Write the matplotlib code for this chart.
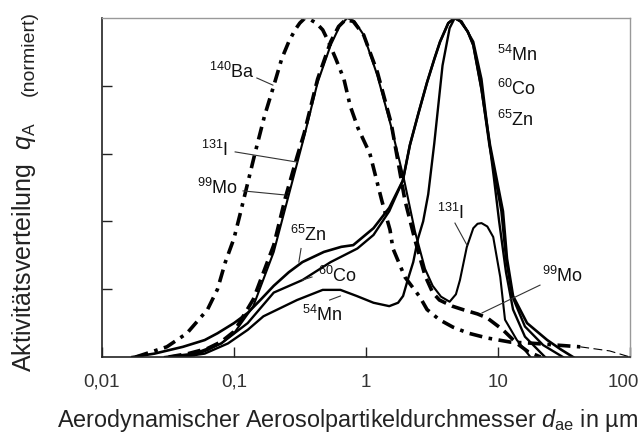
import matplotlib
matplotlib.use("Agg")
import matplotlib.pyplot as plt
from matplotlib.transforms import ScaledTranslation

plt.rcParams['font.family'] = ['Liberation Sans', 'DejaVu Sans']
plt.rcParams['mathtext.fontset'] = 'custom'
plt.rcParams['mathtext.rm'] = 'Liberation Sans'
plt.rcParams['mathtext.it'] = 'Liberation Sans:italic'

# particle diameter in um, activity distribution normalised to peak = 1
ba140_x = [0.018, 0.031, 0.044, 0.063, 0.075, 0.086, 0.1, 0.111, 0.144, 0.17, 0.2, 0.23, 0.26, 0.29,
           0.315, 0.345, 0.38, 0.42, 0.47, 0.52, 0.59, 0.68, 0.76, 0.87, 1.07, 1.32, 1.52, 1.6, 1.97,
           2.56, 2.9, 3.6, 4.56, 6.0, 8.3, 12.4, 17.6, 28, 42]
ba140_y = [0.0, 0.03, 0.07, 0.14, 0.20, 0.28, 0.35, 0.42, 0.60, 0.71, 0.80, 0.88, 0.93, 0.965,
           0.985, 1.0, 0.995, 0.985, 0.965, 0.93, 0.88, 0.82, 0.74, 0.675, 0.60, 0.46, 0.375, 0.32, 0.236,
           0.177, 0.14, 0.11, 0.088, 0.07, 0.056, 0.044, 0.041, 0.035, 0.03]
ba140_tail_x = [42, 70, 100]
ba140_tail_y = [0.03, 0.018, 0.0]

mo99_x = [0.032, 0.045, 0.063, 0.08, 0.1, 0.14, 0.2, 0.245, 0.3, 0.34, 0.43, 0.54, 0.62, 0.7, 0.8,
          0.96, 1.22, 1.55, 1.97, 2.35, 2.8, 3.2, 3.6, 4.5, 5.5, 7.0, 8.3, 10.9, 13.9, 17, 21]
mo99_y = [0.0, 0.01, 0.025, 0.045, 0.075, 0.17, 0.33, 0.47, 0.59, 0.66, 0.82, 0.93, 0.975, 0.995, 0.99,
          0.95, 0.84, 0.69, 0.463, 0.345, 0.24, 0.19, 0.168, 0.15, 0.139, 0.127, 0.115, 0.08, 0.04, 0.015, 0.0]

i131_x = [0.035, 0.05, 0.063, 0.08, 0.1, 0.14, 0.2, 0.245, 0.3, 0.34, 0.43, 0.54, 0.63, 0.72, 0.82,
          0.96, 1.22, 1.55, 1.95, 2.35, 2.8, 3.2, 3.7, 4.3, 4.8, 5.15, 5.8, 6.5, 7.0, 7.5, 8.3, 9.2,
          10.4, 11.3, 13.9, 17.6]
i131_y = [0.0, 0.005, 0.02, 0.04, 0.07, 0.15, 0.31, 0.44, 0.57, 0.65, 0.81, 0.92, 0.975, 1.0, 0.99,
          0.95, 0.83, 0.68, 0.52, 0.37, 0.26, 0.21, 0.178, 0.163, 0.185, 0.227, 0.324, 0.38, 0.393, 0.395, 0.385,
          0.354, 0.236, 0.11, 0.05, 0.0]

zn65_x = [0.017, 0.025, 0.041, 0.06, 0.075, 0.1, 0.127, 0.16, 0.2, 0.26, 0.33, 0.48, 0.65, 0.8,
          1.14, 1.5, 1.9, 2.15, 2.5, 2.9, 3.3, 3.64, 4.2, 4.7, 5.2, 5.9, 6.5, 7.5, 8.7, 10.9, 11.7,
          13.0, 16.6, 23.6, 30, 37]
zn65_y = [0.0, 0.01, 0.03, 0.05, 0.07, 0.10, 0.13, 0.17, 0.21, 0.25, 0.28, 0.31, 0.325, 0.33,
          0.38, 0.44, 0.52, 0.625, 0.72, 0.81, 0.88, 0.93, 0.985, 1.0, 0.99, 0.96, 0.92, 0.79, 0.625, 0.43, 0.29,
          0.18, 0.10, 0.05, 0.022, 0.0]

co60_x = [0.03, 0.05, 0.08, 0.127, 0.2, 0.33, 0.54, 0.86, 1.14, 1.5, 1.9, 2.15, 2.5, 2.9, 3.3,
          3.64, 4.2, 4.7, 5.2, 5.9, 6.5, 7.5, 8.6, 10.6, 11.5, 12.8, 16, 22, 31]
co60_y = [0.0, 0.01, 0.04, 0.10, 0.19, 0.227, 0.28, 0.32, 0.36, 0.43, 0.52, 0.625, 0.72, 0.81, 0.88,
          0.93, 0.985, 1.0, 0.99, 0.96, 0.92, 0.79, 0.625, 0.43, 0.29, 0.18, 0.09, 0.035, 0.0]

mn54_x = [0.04, 0.06, 0.09, 0.127, 0.167, 0.3, 0.47, 0.64, 0.85, 1.14, 1.5, 1.75, 1.91, 2.08, 2.28,
          2.48, 2.71, 2.96, 3.29, 3.8, 4.3, 4.7, 5.3, 6.5, 7.5, 8.3, 9.3, 10.2, 11.5, 13, 16, 22.7]
mn54_y = [0.0, 0.01, 0.04, 0.08, 0.12, 0.168, 0.198, 0.198, 0.18, 0.16, 0.15, 0.16, 0.18, 0.23, 0.28,
          0.35, 0.40, 0.48, 0.63, 0.86, 0.97, 1.0, 0.99, 0.93, 0.82, 0.68, 0.53, 0.40, 0.25, 0.14, 0.06, 0.0]

xtick_vals = [0.01, 0.1, 1, 10, 100]
xtick_labels = ['0,01', '0,1', '1', '10', '100']

fig = plt.figure(figsize=(6.44, 4.34), dpi=100)
ax = fig.add_axes([102 / 644, 1 - 357 / 434, 528 / 644, 339 / 434])

ax.plot(ba140_x, ba140_y, color='black', lw=2.6, dashes=(3.6, 1.8, 1.0, 1.8), dash_capstyle='butt')
ax.plot(ba140_tail_x, ba140_tail_y, color='black', lw=0.8, dashes=(8, 4))
ax.plot(mo99_x, mo99_y, color='black', lw=2.6, dashes=(3.6, 1.8))
ax.plot(i131_x, i131_y, color='black', lw=1.5)
ax.plot(zn65_x, zn65_y, color='black', lw=1.9)
ax.plot(co60_x, co60_y, color='black', lw=1.7)
ax.plot(mn54_x, mn54_y, color='black', lw=1.7)

ax.set_xscale('log')
ax.set_xlim(0.01, 100)
ax.set_ylim(0, 1.0)
ax.set_xticks(xtick_vals)
ax.set_xticklabels(xtick_labels)
ax.minorticks_off()
ax.set_yticks([0.2, 0.4, 0.6, 0.8])
ax.set_yticklabels([])
ax.tick_params(direction='in', length=7, width=1, colors='#222', labelcolor='#333',
               labelsize=13.5, pad=12)
last = ax.get_xticklabels()[-1]
last.set_transform(last.get_transform() + ScaledTranslation(-5 / 72, 0, fig.dpi_scale_trans))
for side in ['left', 'bottom']:
    ax.spines[side].set_color('#222')
    ax.spines[side].set_linewidth(1.2)
for side in ['top', 'right']:
    ax.spines[side].set_color('#999')
    ax.spines[side].set_linewidth(1.0)

# curve labels with short pointer lines
lab = dict(fontsize=13, color='#111')
ax.text(0.144, 0.84, r'$^{140}$Ba', ha='right', va='center', **lab)
ax.plot([0.149, 0.197], [0.823, 0.802], color='#333', lw=0.8)
ax.text(0.090, 0.61, r'$^{131}$I', ha='right', va='center', **lab)
ax.plot([0.102, 0.30], [0.605, 0.575], color='#333', lw=0.8)
ax.text(0.107, 0.50, r'$^{99}$Mo', ha='right', va='center', **lab)
ax.plot([0.117, 0.243], [0.49, 0.478], color='#333', lw=0.8)
ax.text(0.265, 0.36, r'$^{65}$Zn', ha='left', va='center', **lab)
ax.plot([0.322, 0.31], [0.32, 0.28], color='#333', lw=0.8)
ax.text(0.433, 0.24, r'$^{60}$Co', ha='left', va='center', **lab)
ax.plot([0.39, 0.33], [0.236, 0.227], color='#333', lw=0.8)
ax.text(0.327, 0.125, r'$^{54}$Mn', ha='left', va='center', **lab)
ax.plot([0.53, 0.64], [0.168, 0.18], color='#333', lw=0.8)
ax.text(9.8, 0.89, r'$^{54}$Mn', ha='left', va='center', **lab)
ax.text(9.8, 0.79, r'$^{60}$Co', ha='left', va='center', **lab)
ax.text(9.9, 0.70, r'$^{65}$Zn', ha='left', va='center', **lab)
ax.text(3.45, 0.425, r'$^{131}$I', ha='left', va='center', **lab)
ax.plot([4.72, 5.82], [0.395, 0.33], color='#333', lw=0.8)
ax.text(21.5, 0.24, r'$^{99}$Mo', ha='left', va='center', **lab)
ax.plot([20.8, 7.57], [0.212, 0.13], color='#333', lw=0.8)

fig.text(347 / 644, 1 - 427 / 434, r'Aerodynamischer Aerosolpartikeldurchmesser $d_{\mathrm{ae}}$ in µm',
         ha='center', va='baseline', fontsize=16.8, color='#222')
fig.text(24 / 644, 1 - 247 / 434, r'Aktivitätsverteilung  $q_{\mathrm{A}}$', rotation=90,
         ha='center', va='center', fontsize=18, color='#222')
fig.text(29 / 644, 1 - 53 / 434, '(normiert)', rotation=90,
         ha='center', va='center', fontsize=14, color='#222')

fig.savefig('out.png', dpi=100)
